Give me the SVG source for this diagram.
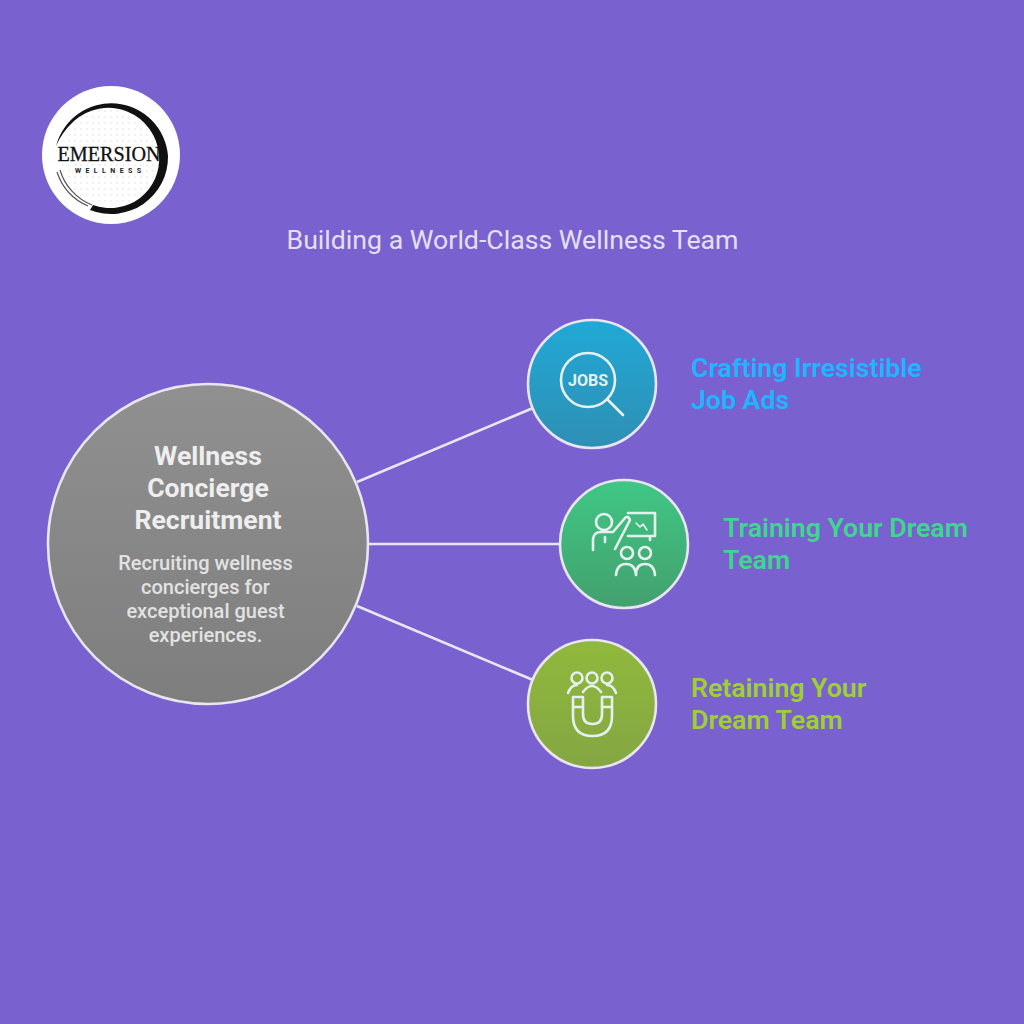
<svg xmlns="http://www.w3.org/2000/svg" width="1024" height="1024" viewBox="0 0 1024 1024">
<defs>
<linearGradient id="g0" x1="0" y1="0" x2="0" y2="1"><stop offset="0" stop-color="#909090"/><stop offset="1" stop-color="#7e7e7e"/></linearGradient>
<linearGradient id="g1" x1="0" y1="0" x2="0" y2="1"><stop offset="0" stop-color="#20a9d6"/><stop offset="1" stop-color="#2f8fb4"/></linearGradient>
<linearGradient id="g2" x1="0" y1="0" x2="0" y2="1"><stop offset="0" stop-color="#3fc785"/><stop offset="1" stop-color="#43a06e"/></linearGradient>
<linearGradient id="g3" x1="0" y1="0" x2="0" y2="1"><stop offset="0" stop-color="#90b93c"/><stop offset="1" stop-color="#84a643"/></linearGradient>
<pattern id="dots" width="6" height="6" patternUnits="userSpaceOnUse"><circle cx="3" cy="3" r="1" fill="#ececec"/></pattern>
</defs>
<style>
text{font-family:"Roboto","Liberation Sans",sans-serif}
.ring{stroke:#e9e6f2;stroke-width:2.6}
.ic{fill:none;stroke:#e6f0ee;stroke-width:2.6;stroke-linecap:round;stroke-linejoin:round}
.lab{font-size:26.7px;font-weight:600}
.hd{font-size:26.6px;font-weight:700;fill:#eeeeee;text-anchor:middle}
.sub{font-size:20px;font-weight:500;fill:#e2e2e2;text-anchor:middle}
</style>
<rect width="1024" height="1024" fill="#7961d0"/>
<g id="connectors" stroke="#e9e6f2" stroke-width="2.6" fill="none">
<line x1="357" y1="482" x2="533" y2="408"/>
<line x1="368" y1="544" x2="560" y2="544"/>
<line x1="357" y1="606" x2="533" y2="680"/>
</g>
<g id="logo">
<circle cx="111" cy="155" r="69" fill="#ffffff"/>
<circle cx="110" cy="156" r="50" fill="url(#dots)"/>
<path d="M56 146A57 57 0 0 1 168 156A57 57 0 0 1 90 210L93 205A49 49 0 0 0 159 155A51 51 0 0 0 74 121Q62 132 56 146Z" fill="#111111"/>
<path d="M57 172A56 56 0 0 0 88 206M60 170A54 54 0 0 0 92 205" fill="none" stroke="#555555" stroke-width="1.2"/>
<rect x="58" y="147" width="98" height="15" fill="#ffffff" opacity="0.8"/>
<text x="109" y="161" font-size="20" text-anchor="middle" textLength="103" lengthAdjust="spacingAndGlyphs" style="font-family:'Liberation Serif',serif" fill="#111111" stroke="#111111" stroke-width="0.3">EMERSION</text>
<text x="108" y="173" font-size="7" font-weight="700" text-anchor="middle" textLength="66" fill="#222222">WELLNESS</text>
</g>
<text id="title" x="512.5" y="249" font-size="26.7" text-anchor="middle" fill="#e4e0f2">Building a World-Class Wellness Team</text>
<g id="node-main">
<circle cx="208" cy="544" r="160" fill="url(#g0)" class="ring"/>
<text class="hd" x="208" y="465">Wellness</text>
<text class="hd" x="208" y="497">Concierge</text>
<text class="hd" x="208" y="529">Recruitment</text>
<text class="sub" x="205.5" y="570">Recruiting wellness</text>
<text class="sub" x="205.5" y="594">concierges for</text>
<text class="sub" x="205.5" y="618">exceptional guest</text>
<text class="sub" x="205.5" y="642">experiences.</text>
</g>
<g id="node-jobs">
<circle cx="592" cy="384" r="64" fill="url(#g1)" class="ring"/>
<circle cx="588" cy="380" r="27" class="ic"/>
<line x1="607" y1="399" x2="623" y2="415" class="ic"/>
<text x="588" y="386" font-size="16" font-weight="700" text-anchor="middle" textLength="40" fill="#e6f0ee">JOBS</text>
<text class="lab" x="691" y="377" fill="#1db6ff">Crafting Irresistible</text>
<text class="lab" x="691" y="409" fill="#1db6ff">Job Ads</text>
</g>
<g id="node-training">
<circle cx="624" cy="544" r="64" fill="url(#g2)" class="ring"/>
<circle cx="604" cy="522" r="8" class="ic"/>
<path d="M593 550V539Q594 532 601 532H613L625 518Q628 515 630 520L615 549M605 537V542" class="ic"/>
<path d="M628 513H655V536H628M650 536V540" class="ic"/>
<path d="M636 523L640 527L643 524L647 530" class="ic" style="stroke-width:1.6"/>
<circle cx="627" cy="553" r="6" class="ic"/>
<circle cx="645" cy="553" r="6" class="ic"/>
<path d="M616 575Q617 564 626 564Q635 564 636 575M636 575Q636 564 645 564Q654 564 655 575" class="ic"/>
</g>
<g id="node-retain">
<circle cx="592" cy="704" r="64" fill="url(#g3)" class="ring"/>
<circle cx="577" cy="678" r="5.5" class="ic"/><circle cx="592" cy="678" r="5.5" class="ic"/><circle cx="607" cy="678" r="5.5" class="ic"/>
<path d="M568 693Q571 685 577 685M583 692Q592 680 601 692M607 685Q613 685 616 693" class="ic"/>
<path d="M573 697H583V714Q583 724 592.5 724Q602 724 602 714V697H612V716Q612 736 592.5 736Q573 736 573 716ZM573 707H583M602 707H612" class="ic"/>
</g>
<g id="labels">
<text class="lab" x="723" y="537" fill="#3fd68f">Training Your Dream</text>
<text class="lab" x="723" y="569" fill="#3fd68f">Team</text>
<text class="lab" x="691" y="697" fill="#9fd030">Retaining Your</text>
<text class="lab" x="691" y="729" fill="#9fd030">Dream Team</text>
</g>
</svg>
